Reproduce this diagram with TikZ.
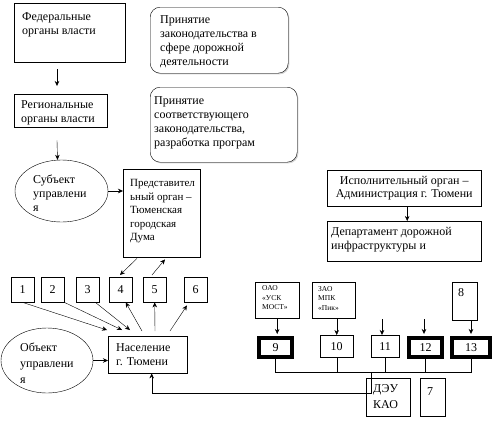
\documentclass[tikz,border=0pt]{standalone}
\usepackage{fontspec}
\setmainfont{Liberation Serif}
\usetikzlibrary{arrows.meta,shapes.geometric,shadows}

\begin{document}
\begin{tikzpicture}[x=1pt,y=-1pt,>={Stealth[length=5pt,width=4.5pt]},
  font=\fontsize{12}{14}\selectfont,
  box/.style={draw,anchor=north west,inner sep=0pt},
  rbox/.style={box,fill=white,rounded corners=10pt,
    drop shadow={shadow xshift=1.2pt,shadow yshift=-1.2pt,opacity=0.35}},
  oval/.style={draw,ellipse,inner sep=0pt},
  txt/.style={anchor=north west,inner sep=0pt,align=left},
  small/.style={txt,font=\fontsize{7.5}{9.5}\selectfont},
  num/.style={box,minimum width=23pt,minimum height=25pt},
  heavy/.style={box,line width=4pt}]
\useasboundingbox (0,0) rectangle (502,431);
% left column
\node[box,minimum width=111pt,minimum height=59pt] (fed) at (14,3) {};
\node[txt] (fedT) at ([xshift=8pt,yshift=-9pt]fed.north west) {Федеральные\\органы власти};
\node[box,minimum width=93pt,minimum height=33pt] (reg) at (14,94) {};
\node[txt] (regT) at ([xshift=7pt,yshift=-6.5pt]reg.north west) {Региональные\\органы власти};
\node[rbox,minimum width=138pt,minimum height=66pt] (law1) at (150,7) {};
\node[txt] (law1T) at ([xshift=10pt,yshift=-8.5pt]law1.north west) {Принятие\\законодательства в\\сфере дорожной\\деятельности};
\node[rbox,minimum width=147pt,minimum height=75pt] (law2) at (150,87) {};
\node[txt] (law2T) at ([xshift=4pt,yshift=-9.5pt]law2.north west) {Принятие\\соответствующего\\законодательства,\\разработка програм};
\node[oval,minimum width=93pt,minimum height=62pt] (subj) at (61.5,191) {};
\node[txt] (subjT) at (33,174.5) {Субъект\\управлени\\я};
\node[box,minimum width=77pt,minimum height=88pt] (duma) at (123,169) {};
\node[txt,font=\fontsize{11}{13.5}\selectfont] (dumaT) at ([xshift=7pt,yshift=-10.5pt]duma.north west) {Представител\\ьный орган –\\Тюменская\\городская\\Дума};
\draw[->] ([xshift=43pt,yshift=-7pt]fed.south west) -- ([xshift=43pt,yshift=8pt]reg.north west);
\draw[->] ([xshift=43pt,yshift=-13pt]reg.south west) -- ([xshift=-4pt]subj.north);
\draw[->] (subj.east) -- (subj.east -| duma.west);
% numbered boxes
\foreach \i/\x in {1/11,2/41,3/76,4/109,5/143,6/184}
  \node[num] (n\i) at (\x,277) {\i};
\node[oval,minimum width=92pt,minimum height=65pt] (obj) at (47,360.5) {};
\node[txt] (objT) at (20,342.5) {Объект\\[2pt]управлени\\[2pt]я};
\node[box,minimum width=79pt,minimum height=37pt] (nas) at (108,336) {};
\node[txt] (nasT) at ([xshift=8pt,yshift=-7.5pt]nas.north west) {Население\\г. Тюмени};
\draw[->] ([xshift=14pt,yshift=-1pt]duma.south west) -- ([xshift=11pt,yshift=2pt]n4.north west);
\draw[->] ([xshift=9pt,yshift=2pt]n5.north west) -- ([xshift=42pt,yshift=-2pt]duma.south west);
\draw[->] (n1.south) -- ([xshift=-1pt,yshift=6pt]nas.north west);
\draw[->] (n2.south east) -- ([xshift=14pt,yshift=6pt]nas.north west);
\draw[->] ([xshift=-4pt]n3.south east) -- ([xshift=22pt,yshift=6pt]nas.north west);
\draw[->] ([xshift=34pt,yshift=5pt]nas.north west) -- ([xshift=5pt]n4.south);
\draw[->] ([xshift=47pt,yshift=5pt]nas.north west) -- (n5.south);
\draw[->] ([xshift=62pt,yshift=5pt]nas.north west) -- ([xshift=3pt,yshift=-3pt]n6.south west);
\draw[->] (obj.east) -- (obj.east -| nas.west);
% right part
\node[box,minimum width=154pt,minimum height=36pt,align=center,font=\fontsize{12}{12.5}\selectfont] (exec) at (327,170) {Исполнительный орган –\\Администрация г. Тюмени};
\node[box,minimum width=154pt,minimum height=40pt] (dept) at (327,221) {};
\node[txt] (deptT) at ([xshift=4pt,yshift=-6.5pt]dept.north west) {Департамент дорожной\\инфраструктуры и};
\draw[->] ([xshift=3pt]exec.south) -- ([xshift=3pt]dept.north);
\node[box,minimum width=44pt,minimum height=36pt] (oao) at (255,282) {};
\node[small] (oaoT) at ([xshift=7pt,yshift=-3.5pt]oao.north west) {ОАО\\«УСК\\МОСТ»};
\node[box,minimum width=43pt,minimum height=36pt] (zao) at (312,282) {};
\node[small] (zaoT) at ([xshift=6pt,yshift=-4pt]zao.north west) {ЗАО\\МПК\\«Пик»};
\node[box,minimum width=25pt,minimum height=38pt] (n8) at (452,282) {};
\node[txt] (n8T) at ([xshift=6pt,yshift=-6.5pt]n8.north west) {8};
\node[heavy,minimum width=33pt,minimum height=19pt] (n9) at (257,336) {9};
\node[box,minimum width=33pt,minimum height=22pt] (n10) at (320,335) {10};
\node[box,minimum width=28pt,minimum height=22pt] (n11) at (371,335) {11};
\node[heavy,minimum width=33pt,minimum height=19pt] (n12) at (407,336) {12};
\node[heavy,minimum width=38pt,minimum height=19pt] (n13) at (450,336) {13};
\node[box,minimum width=44pt,minimum height=38pt] (dey) at (366,378) {};
\node[txt] (deyT) at ([xshift=7pt,yshift=-6.5pt]dey.north west) {ДЭУ\\[2pt]КАО};
\node[box,minimum width=25pt,minimum height=38pt] (n7) at (420,378) {};
\node[txt] (n7T) at ([xshift=7pt,yshift=-9pt]n7.north west) {7};
\coordinate (in11) at (382,319);
\coordinate (in12) at (424,319);
\coordinate (bus) at (0,372);
\coordinate (ret) at (371,393);
\draw[->] (oao.south) -- ([yshift=2pt]oao.south |- n9.north);
\draw[->] (n10.north |- zao.south) -- (n10.north);
\draw[->] (in11) -- (in11 |- n11.north);
\draw[->] (in12) -- ([yshift=2pt]in12 |- n12.north);
\draw[->] (n13.north |- n8.south) -- ([yshift=2pt]n13.north);
\draw (n9.south) -- (n9.south |- bus) -- (n13.south |- bus) -- (n13.south);
\foreach \n in {10,11,12}
  \draw (n\n.south) -- (n\n.south |- bus);
\draw[->] (ret |- bus) -- (ret) -| ([xshift=4pt]nas.south);
\end{tikzpicture}
\end{document}
